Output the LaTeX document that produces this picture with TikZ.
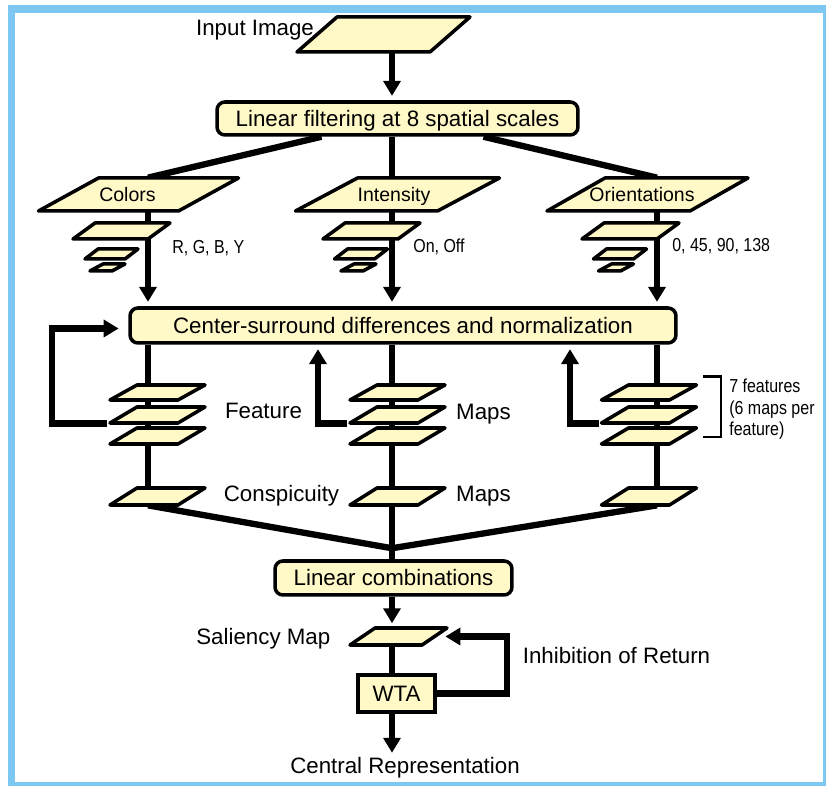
\documentclass[tikz,border=0pt]{standalone}
\usepackage{fontspec}
\setmainfont{Liberation Sans}
\newfontfamily\narrowfont[FakeStretch=0.85]{Liberation Sans}
\usetikzlibrary{arrows.meta, positioning, calc}

\definecolor{paper}{RGB}{255,249,200}
\definecolor{framebl}{RGB}{125,200,242}

\newcommand{\bigtxt}{\fontsize{12.7}{15}\selectfont}
\newcommand{\planetxt}{\fontsize{11.1}{13}\selectfont}
\newcommand{\narrowtxt}{\narrowfont\fontsize{10.7}{12.2}\selectfont}

\pgfdeclarelayer{back}
\pgfsetlayers{back,main}

\tikzset{
  flow/.style={line width=3.6pt},
  flowarrow/.style={line width=3.6pt, -{Triangle[length=8.5pt,width=9.6pt]}, shorten >=2.5pt},
  box/.style={draw, fill=paper, line width=2pt, rounded corners=4.5pt, inner sep=0pt,
    font=\bigtxt, text height=9.1pt, text depth=0pt},
  planeline/.style={draw, fill=paper, line width=2pt, line join=round},
  planelbl/.style={inner sep=0pt, font=\planetxt, text height=7.95pt, text depth=0pt},
  tag/.style={inner sep=0pt, font=\bigtxt, text height=9.1pt, text depth=0pt},
  note/.style={inner sep=0pt, font=\narrowtxt, text height=7.7pt, text depth=0pt, anchor=west}
}

% [label options], name, centre x, centre y, top width, slant, height, text
\newcommand{\mapplane}[8][]{%
  \draw[planeline] ({#3-#5/2-#6/2},{#4+#7/2}) -- ({#3+#5/2-#6/2},{#4+#7/2})
    -- ({#3+#5/2+#6/2},{#4-#7/2}) -- ({#3-#5/2+#6/2},{#4-#7/2}) -- cycle;
  \node[planelbl, minimum width=#5*0.02cm, minimum height=#7*0.02cm, #1] (#2) at (#3,#4) {#8};}

\begin{document}
\begin{tikzpicture}[x=0.02cm, y=-0.02cm]
    \useasboundingbox (0,0) rectangle (826,786);
    % column lines
    \coordinate (colC) at (148,0);
    \coordinate (colI) at (392,0);
    \coordinate (colO) at (657,0);

    % input and filtering
    \mapplane{input}{383.5}{34.5}{133}{40}{35}{}
    \node[tag] (inputlbl) at (255,28) {Input Image};
    \node[box, minimum width=7.22cm, minimum height=0.66cm] (filt) at (397.5,118.5) {Linear filtering at 8 spatial scales};

    % channels
    \mapplane[xshift=-0.22cm]{colors}{138.5}{194.5}{140}{60}{33}{Colors}
    \mapplane[xshift=-0.07cm]{intens}{397.5}{194.5}{142}{62}{33}{Intensity}
    \mapplane[xshift=-0.11cm]{orient}{647.5}{194.5}{143}{58}{33}{Orientations}

    % pyramids
    \mapplane{pyrC1}{121.5}{231}{75}{22}{16}{}
    \mapplane{pyrC2}{111.5}{254}{40}{13}{10}{}
    \mapplane{pyrC3}{107.5}{267.5}{22}{13}{7}{}
    \mapplane{pyrI1}{371.5}{231}{75}{22}{16}{}
    \mapplane{pyrI2}{361}{254}{40}{13}{10}{}
    \mapplane{pyrI3}{358.5}{267.5}{22}{13}{7}{}
    \mapplane{pyrO1}{630.5}{231}{75}{22}{16}{}
    \mapplane{pyrO2}{620}{254}{40}{13}{10}{}
    \mapplane{pyrO3}{616}{267.5}{22}{13}{7}{}
    \node[note] (noteC) at (172,246.5) {R, G, B, Y};
    \node[note] (noteI) at (413,246) {On, Off};
    \node[note] (noteO) at (672,245) {0, 45, 90, 138};

    \node[box, minimum width=10.92cm, minimum height=0.7cm] (csd) at (403,325.5) {Center-surround differences and normalization};

    % feature maps
    \mapplane{fC1}{157.5}{392.5}{68}{27}{15}{}
    \mapplane{fC2}{157.5}{415}{68}{27}{16}{}
    \mapplane{fC3}{157.5}{436}{68}{27}{16}{}
    \mapplane{fI1}{397.5}{392.5}{68}{27}{15}{}
    \mapplane{fI2}{397.5}{415}{68}{27}{16}{}
    \mapplane{fI3}{397.5}{436}{68}{27}{16}{}
    \mapplane{fO1}{649}{392.5}{68}{27}{15}{}
    \mapplane{fO2}{649}{415}{68}{27}{16}{}
    \mapplane{fO3}{649}{436}{68}{27}{16}{}
    \node[tag] (featlbl) at (263.5,411) {Feature};
    \node[tag] (mapslbl) at (483.5,411.5) {Maps};
    \draw[line width=1.7pt] (703,377) -| (721,437) -- (703,437);
    \node[anchor=north west, inner sep=0pt, font=\narrowtxt, align=left] (featnote) at (729,379) {7 features\\(6 maps per\\feature)};

    % conspicuity maps
    \mapplane{consC}{157.5}{496.5}{68}{27}{17}{}
    \mapplane{consI}{397.5}{496.5}{68}{27}{17}{}
    \mapplane{consO}{649}{496.5}{68}{27}{17}{}
    \node[tag] (conslbl) at (281.5,494) {Conspicuity};
    \node[tag] (cmapslbl) at (483.5,494) {Maps};

    \node[box, minimum width=4.74cm, minimum height=0.68cm] (lcomb) at (393.5,578) {Linear combinations};
    \mapplane{sal}{398.5}{636.5}{72}{25}{17}{}
    \node[tag, left=0.63cm of sal] (sallbl) {Saliency Map};
    \node[box, rounded corners=0pt, minimum width=1.54cm, minimum height=0.74cm] (wta) at (396.5,693.5) {WTA};
    \node[tag] (inhib) at (616.5,655.5) {Inhibition of Return};
    \node[tag] (central) at (405,765.5) {Central Representation};

    \begin{pgfonlayer}{back}
    \draw[framebl, line width=4pt] (11.5,9) rectangle (826.5,785.5);
    % connectors
    \draw[flowarrow] (input.south -| colI) -- (filt.north -| colI);
    \draw[flow] ($(filt.south)+(-76,0)$) -- (colors.north -| colC);
    \draw[flow] (filt.south -| colI) -- (intens.north -| colI);
    \draw[flow] ($(filt.south)+(86,0)$) -- (orient.north -| colO);
    \draw[flowarrow] (colors.south -| colC) -- (csd.north -| colC);
    \draw[flowarrow] (intens.south -| colI) -- (csd.north -| colI);
    \draw[flowarrow] (orient.south -| colO) -- (csd.north -| colO);
    \draw[flow] (csd.south -| colC) -- (consC.north -| colC);
    \draw[flow] (csd.south -| colI) -- (consI.north -| colI);
    \draw[flow] (csd.south -| colO) -- (consO.north -| colO);
    % feedback
    \draw[flowarrow, shorten >=5.5pt] ($(fC2.south west)+(-16,0)$) -- ++(-55,0) |- ($(csd.west)+(0,3)$);
    \draw[flowarrow] ($(fI2.south west)+(-16,0)$) -| ($(csd.south)+(-85,0)$);
    \draw[flowarrow] ($(fO2.south west)+(-16,0)$) -| ($(csd.south)+(167,0)$);
    % combination
    \coordinate (merge) at ($(lcomb.north -| colI)+(0,-11)$);
    \draw[flow] (consC.south -| colC) -- (merge) -- (consO.south -| colO);
    \draw[flow] (consI.south -| colI) -- (lcomb.north -| colI);
    \draw[flowarrow] (lcomb.south -| colI) -- (sal.north -| colI);
    \draw[flow] (sal.south -| colI) -- (wta.north -| colI);
    \draw[flowarrow] (wta.south -| colI) -- (central.north -| colI);
    \draw[flowarrow, shorten >=6pt] (wta.east) -- ++(70,0) |- (sal.east);
    \end{pgfonlayer}
\end{tikzpicture}
\end{document}
